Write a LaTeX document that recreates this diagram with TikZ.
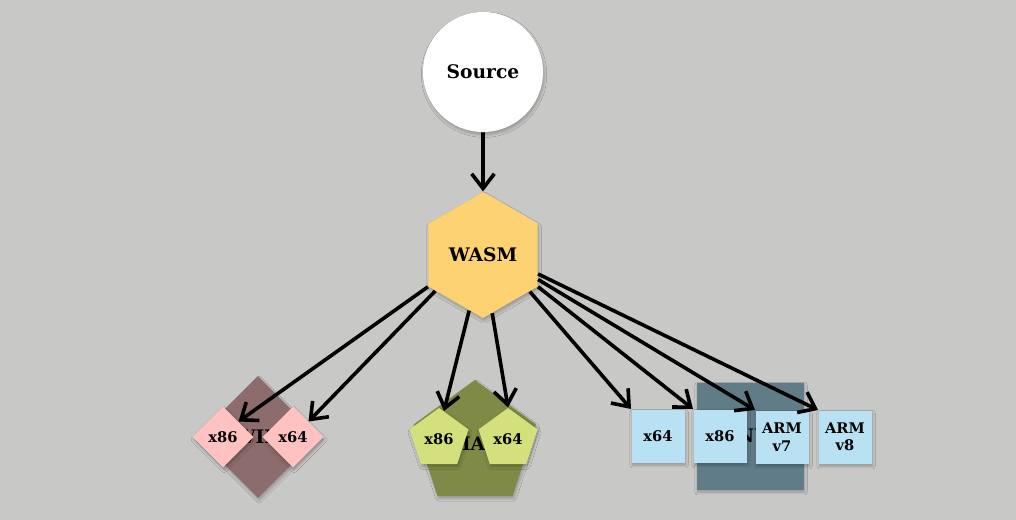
\documentclass[tikz,border=0pt]{standalone}
\usepackage{fontspec}
\setmainfont{DejaVu Serif}
\usetikzlibrary{shapes.geometric,arrows.meta,shadows.blur}

\definecolor{bgGray}{RGB}{200,201,199}
\definecolor{wasmYellow}{RGB}{253,210,114}
\definecolor{winBrown}{RGB}{140,108,108}
\definecolor{winPink}{RGB}{255,194,192}
\definecolor{macOlive}{RGB}{126,138,70}
\definecolor{macLime}{RGB}{212,224,123}
\definecolor{linSlate}{RGB}{95,124,135}
\definecolor{linBlue}{RGB}{184,226,243}

\tikzset{every picture/.style={line width=0.75pt}}
\tikzset{
	softshadow/.style={blur shadow={shadow xshift=0.8pt,shadow yshift=-2pt,shadow blur radius=2pt,shadow blur steps=5,shadow opacity=25}},
	biglabel/.style={font=\bfseries\fontsize{14}{16}\selectfont},
	smalllabel/.style={font=\bfseries\fontsize{11}{13}\selectfont,align=center},
	osdiamond/.style={diamond,aspect=1,inner sep=0pt,minimum width=#1,minimum height=#1,softshadow},
	ospentagon/.style={regular polygon,regular polygon sides=5,inner sep=0pt,minimum size=#1,softshadow},
	osbox/.style={rectangle,inner sep=0pt,minimum width=#1,minimum height=#1,softshadow},
	archarrow/.style={line width=2.7pt,-{Straight Barb[length=11pt,width=17pt]}}
}

\begin{document}
\begin{tikzpicture}[x=0.75pt,y=0.75pt,yscale=-1,xscale=1]
		\path[use as bounding box,fill=bgGray] (0,0) rectangle (1016,520);

		%Shape: Circle [source]
		\node (source) [circle,fill=white,minimum size=90pt,inner sep=0pt,softshadow,biglabel] at (483,72) {Source};
		%Shape: Hexagon [wasm]
		\node (wasm) [regular polygon,regular polygon sides=6,shape border rotate=30,fill=wasmYellow,minimum size=94.5pt,inner sep=0pt,softshadow,biglabel] at (483,255) {WASM};

		%Shape: Diamond [win]
		\node (win) [osdiamond=91.5pt,fill=winBrown,biglabel] at (258,437) {WIN};
		%Shape: Pentagon [mac]
		\node (mac) [ospentagon=96pt,fill=macOlive,biglabel] at (475,444) {MAC};
		%Shape: Square [linux]
		\node (linux) [osbox=80.25pt,fill=linSlate,biglabel] at (750,436) {LINUX};

		%Shape: Diamond [win targets]
		\node (winx86) [osdiamond=45.75pt,fill=winPink,smalllabel] at (223,437) {x86};
		\node (winx64) [osdiamond=45.75pt,fill=winPink,smalllabel] at (293,437) {x64};
		%Shape: Pentagon [mac targets]
		\node (macx86) [ospentagon=46.5pt,fill=macLime,smalllabel] at (439,439) {x86};
		\node (macx64) [ospentagon=46.5pt,fill=macLime,smalllabel] at (508,439) {x64};
		%Shape: Square [linux targets]
		\node (linx64) [osbox=39.75pt,fill=linBlue,smalllabel] at (658,436) {x64};
		\node (linx86) [osbox=39.75pt,fill=linBlue,smalllabel] at (720,436) {x86};
		\node (armv7) [osbox=39.75pt,fill=linBlue,smalllabel] at (782,437) {ARM\\v7};
		\node (armv8) [osbox=39.75pt,fill=linBlue,smalllabel] at (845,437) {ARM\\v8};

		%Straight Lines [compile]
		\draw [archarrow] (source) -- (wasm.90);
		%Straight Lines [targets]
		\draw [archarrow] (wasm.210) -- (winx86.north east);
		\draw [archarrow] (wasm.217) -- (winx64.north east);
		\draw [archarrow] (wasm.256) -- (macx86.80);
		\draw [archarrow] (wasm.279) -- (macx64.90);
		\draw [archarrow] (wasm.322) -- (linx64.north west);
		\draw [archarrow] (wasm.330) -- (linx86.north west);
		\draw [archarrow] (wasm.336) -- (armv7.north west);
		\draw [archarrow] (wasm.341) -- (armv8.north west);

	\end{tikzpicture}
\end{document}
